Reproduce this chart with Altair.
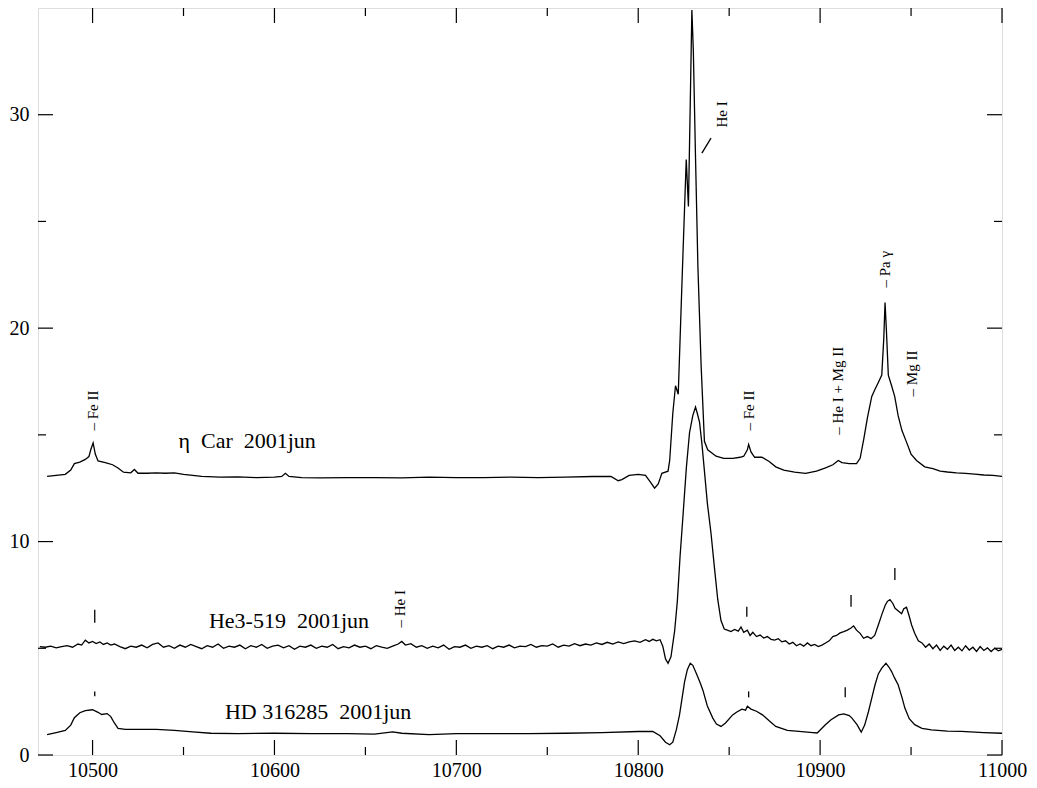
import altair as alt
import pandas as pd

# ---------------- data ----------------
eta_car = [
    (10475, 13.05), (10480, 13.1), (10485, 13.15), (10488, 13.35), (10490, 13.65),
    (10493, 13.72), (10496, 13.85), (10498, 13.98), (10499, 14.3), (10500.3, 14.62),
    (10501.5, 14.1), (10503, 13.78), (10507, 13.7), (10511, 13.6), (10514, 13.45),
    (10517, 13.25), (10521, 13.22), (10523, 13.38), (10525, 13.2), (10530, 13.2),
    (10535, 13.22), (10540, 13.2), (10545, 13.22), (10550, 13.15), (10555, 13.1),
    (10560, 13.05), (10570, 13.02), (10580, 13.03), (10590, 13.0), (10600, 13.02),
    (10604, 13.05), (10606, 13.2), (10608, 13.05), (10615, 13.0), (10625, 12.98),
    (10640, 13.0), (10655, 13.0), (10670, 12.98), (10685, 13.02), (10700, 13.0),
    (10715, 13.0), (10730, 13.02), (10745, 13.0), (10760, 13.02), (10775, 13.05),
    (10785, 13.05), (10789, 12.85), (10791, 12.9), (10795, 13.1), (10800, 13.15),
    (10804, 13.1), (10807, 12.75), (10809, 12.5), (10811, 12.7), (10813, 13.2),
    (10816.4, 13.3), (10817.3, 13.8), (10819, 16.0), (10820.5, 17.3), (10822, 16.9),
    (10824, 22.0), (10826.4, 27.9), (10827.6, 25.7), (10828.6, 30.5), (10829.5, 34.9),
    (10830.3, 33.0), (10831.5, 28.0), (10832.8, 22.9), (10834.6, 18.2), (10836.4, 14.7),
    (10838.2, 14.3), (10842.8, 14.0), (10847, 13.9), (10852, 13.9), (10856, 13.95),
    (10858, 14.0), (10860, 14.3), (10860.7, 14.55), (10862, 14.2), (10864, 13.95),
    (10868, 13.95), (10872, 13.75), (10875.6, 13.5), (10880, 13.35), (10886, 13.25),
    (10892, 13.2), (10898, 13.3), (10903, 13.45), (10907, 13.6), (10910, 13.8),
    (10912, 13.7), (10916, 13.65), (10920, 13.65), (10922, 13.9), (10924, 14.8),
    (10926, 15.8), (10928.4, 16.8), (10930, 17.1), (10932, 17.45), (10933.9, 17.8),
    (10935, 19.5), (10935.7, 21.2), (10936.5, 19.8), (10937.5, 17.8), (10939.3, 17.3),
    (10941, 16.8), (10942.9, 15.9), (10945, 15.2), (10947.5, 14.66), (10950, 14.1),
    (10953, 13.8), (10957.5, 13.5), (10962, 13.42), (10966, 13.3), (10970, 13.26),
    (10975, 13.22), (10980, 13.2), (10985, 13.16), (10990, 13.12), (10995, 13.1),
    (11000, 13.05),
]

he3_519 = [
    (10471, 5.08), (10474, 5.05), (10477, 5.1), (10480, 5.02), (10483, 5.08),
    (10486, 5.12), (10489, 5.05), (10492, 5.2), (10494, 5.15), (10496, 5.38),
    (10498, 5.25), (10500, 5.32), (10502, 5.22), (10504, 5.3), (10506, 5.18),
    (10508, 5.25), (10510, 5.15), (10512, 5.2), (10515, 5.08), (10518, 4.98),
    (10521, 5.1), (10524, 5.05), (10527, 5.15), (10530, 5.02), (10533, 5.18),
    (10536, 5.25), (10539, 5.05), (10542, 5.12), (10545, 5.0), (10548, 5.15),
    (10551, 5.05), (10554, 5.18), (10557, 5.08), (10560, 4.98), (10563, 5.12),
    (10566, 5.05), (10569, 5.2), (10572, 5.0), (10575, 5.1), (10578, 5.05),
    (10581, 5.15), (10584, 4.98), (10587, 5.12), (10590, 5.05), (10593, 5.18),
    (10596, 5.0), (10599, 5.1), (10602, 5.15), (10605, 5.02), (10608, 5.12),
    (10611, 4.95), (10614, 5.1), (10617, 5.05), (10620, 5.15), (10623, 5.0),
    (10626, 5.1), (10629, 5.05), (10632, 5.18), (10635, 4.98), (10638, 5.08),
    (10641, 5.02), (10644, 5.15), (10647, 5.05), (10650, 5.1), (10653, 4.98),
    (10656, 5.12), (10659, 5.05), (10662, 5.0), (10665, 5.1), (10668, 5.2),
    (10670, 5.32), (10672, 5.15), (10675, 5.22), (10678, 5.05), (10681, 5.12),
    (10684, 5.0), (10687, 5.1), (10690, 5.02), (10693, 5.15), (10696, 4.95),
    (10699, 5.08), (10702, 5.05), (10705, 5.15), (10708, 5.0), (10711, 5.1),
    (10714, 5.05), (10717, 5.12), (10720, 4.98), (10723, 5.1), (10726, 5.05),
    (10729, 5.15), (10732, 5.02), (10735, 5.1), (10738, 5.08), (10741, 5.18),
    (10744, 5.05), (10747, 5.12), (10750, 5.1), (10753, 5.2), (10756, 5.05),
    (10759, 5.15), (10762, 5.1), (10765, 5.22), (10768, 5.12), (10771, 5.2),
    (10774, 5.15), (10777, 5.25), (10780, 5.18), (10783, 5.28), (10786, 5.2),
    (10789, 5.3), (10792, 5.22), (10795, 5.3), (10798, 5.35), (10801, 5.28),
    (10804, 5.4), (10806, 5.32), (10808, 5.42), (10810, 5.35), (10812, 5.4),
    (10813.5, 5.1), (10815, 4.5), (10816.4, 4.3), (10818, 4.6), (10820, 5.8),
    (10821.5, 7.2), (10823, 9.3), (10824.6, 11.2), (10826.5, 13.5), (10828.2, 15.1),
    (10830, 15.9), (10831.5, 16.3), (10832.5, 16.0), (10833.7, 15.6), (10835, 14.6),
    (10836.4, 13.3), (10838, 11.8), (10840, 10.4), (10842, 8.7), (10843.7, 7.3),
    (10845.5, 6.3), (10847.3, 5.9), (10849, 5.85), (10851, 5.78), (10853, 5.88),
    (10855, 5.8), (10856.5, 6.0), (10858, 5.75), (10860, 5.85), (10861.5, 5.6),
    (10863, 5.75), (10865, 5.55), (10867, 5.62), (10869, 5.48), (10871, 5.55),
    (10873, 5.42), (10875, 5.38), (10877, 5.45), (10879, 5.3), (10881, 5.35),
    (10883, 5.2), (10885, 5.28), (10887, 5.12), (10889, 5.2), (10891, 5.1),
    (10893, 5.25), (10895, 5.12), (10897, 5.18), (10899, 5.08), (10901, 5.15),
    (10903, 5.25), (10905, 5.35), (10907, 5.55), (10909, 5.6), (10911, 5.72),
    (10913, 5.78), (10915, 5.85), (10917, 5.95), (10918.4, 6.05), (10920, 5.85),
    (10922, 5.7), (10923.9, 5.47), (10926, 5.55), (10928, 5.45), (10930, 5.6),
    (10932, 6.09), (10934, 6.6), (10935.8, 7.02), (10937, 7.2), (10938.4, 7.28),
    (10940, 7.1), (10941.2, 6.87), (10943, 6.75), (10944.8, 6.62), (10946, 6.85),
    (10947.5, 6.92), (10949, 6.5), (10950.3, 6.09), (10952, 5.7), (10954, 5.35),
    (10956, 5.25), (10958, 5.05), (10960, 5.2), (10962, 4.98), (10964, 5.15),
    (10966, 4.9), (10968, 5.1), (10970, 4.95), (10972, 5.15), (10974, 4.9),
    (10976, 5.05), (10978, 4.88), (10980, 5.12), (10982, 4.92), (10984, 5.05),
    (10986, 4.85), (10988, 5.08), (10990, 4.9), (10992, 5.02), (10994, 4.85),
    (10996, 5.0), (10998, 4.88), (11000, 4.95),
]

hd_316285 = [
    (10475, 0.95), (10480, 1.05), (10485, 1.15), (10488, 1.4), (10490, 1.75),
    (10493, 1.98), (10496, 2.08), (10500, 2.12), (10503, 2.0), (10505, 1.9),
    (10508, 1.94), (10510, 1.8), (10512, 1.5), (10514, 1.25), (10518, 1.2),
    (10525, 1.2), (10535, 1.2), (10545, 1.15), (10555, 1.08), (10565, 1.02),
    (10580, 1.0), (10600, 1.02), (10620, 1.0), (10640, 1.0), (10655, 0.98),
    (10665, 1.08), (10670, 1.02), (10685, 0.95), (10700, 1.0), (10720, 1.0),
    (10740, 1.0), (10760, 1.02), (10780, 1.05), (10800, 1.1), (10808, 1.1),
    (10812, 0.9), (10815, 0.6), (10817.3, 0.48), (10819, 0.6), (10821, 1.2),
    (10822.7, 1.88), (10825.5, 3.44), (10827, 4.0), (10828.6, 4.3), (10830, 4.2),
    (10831.9, 3.83), (10834, 3.4), (10835.5, 3.05), (10838, 2.3), (10841, 1.73),
    (10843, 1.45), (10845.5, 1.34), (10848, 1.5), (10851.9, 1.88), (10854, 2.0),
    (10857, 2.15), (10859, 2.1), (10860, 2.28), (10862, 2.15), (10865, 2.05),
    (10868.3, 1.88), (10872, 1.6), (10875.6, 1.34), (10882, 1.15), (10890, 1.1),
    (10896, 1.05), (10898.4, 1.03), (10902.9, 1.42), (10906, 1.65), (10910.2, 1.88),
    (10913, 1.93), (10916, 1.85), (10917.5, 1.73), (10920.3, 1.42), (10922.6, 1.07),
    (10924.5, 1.4), (10926.6, 2.04), (10928.5, 2.7), (10930.2, 3.29), (10932, 3.8),
    (10933.9, 4.07), (10936.2, 4.3), (10938, 4.1), (10939.3, 3.91), (10941, 3.6),
    (10942.9, 3.29), (10945, 2.7), (10946.6, 2.2), (10949, 1.7), (10952, 1.42),
    (10956, 1.25), (10961.2, 1.18), (10970, 1.12), (10977.6, 1.11), (10990, 1.05),
    (11000, 1.02),
]

series_names = ["eta", "he3", "hd"]

# spectrum labels: (wavelength, flux, text)
spectrum_labels = [
    (10585, 14.7, "\u03b7\u00a0 Car\u00a0 2001jun"),
    (10608, 6.3, "He3-519\u00a0 2001jun"),
    (10624, 2.0, "HD 316285\u00a0 2001jun"),
]

# rotated line identifications: (wavelength, flux at bottom of string, text)
line_ids = [
    (10500.3, 15.2, "\u2013 Fe II"),
    (10860.7, 15.2, "\u2013 Fe II"),
    (10910, 15.0, "\u2013 He I + Mg II"),
    (10935.7, 21.9, "\u2013 Pa \u03b3"),
    (10950.3, 16.8, "\u2013 Mg II"),
    (10669, 5.97, "\u2013 He I"),
    (10846, 29.4, "He I"),
]

# short vertical markers: (wavelength, flux from, flux to)
markers = [
    (10501.2, 6.2, 6.8), (10859.7, 6.48, 6.95), (10917, 6.95, 7.5), (10941.1, 8.2, 8.76),
    (10501.2, 2.75, 2.98), (10860.7, 2.7, 2.98), (10913.8, 2.7, 3.17),
]

# slanted He I pointer: (wl1, f1, wl2, f2)
pointer = [(10835, 28.2, 10840, 28.9)]

x_major = [10500, 10600, 10700, 10800, 10900, 11000]
x_minor = [10550, 10650, 10750, 10850, 10950]
y_major = [0, 10, 20, 30]
y_minor = [5, 15, 25]

# ---------------- build tables ----------------
rows = []
for name, spec in zip(series_names, [eta_car, he3_519, hd_316285]):
    for wl, fl in spec:
        rows.append({"wl": wl, "flux": fl, "series": name})
spec_df = pd.DataFrame(rows)
lab_df = pd.DataFrame(spectrum_labels, columns=["wl", "flux", "text"])
id_df = pd.DataFrame(line_ids, columns=["wl", "flux", "text"])
mk_df = pd.DataFrame(markers, columns=["wl", "f1", "f2"])
pt_df = pd.DataFrame(pointer, columns=["wl1", "f1", "wl2", "f2"])
xt_df = pd.DataFrame({"wl": x_major + x_minor,
                      "len": [15] * len(x_major) + [8] * len(x_minor)})
yt_df = pd.DataFrame({"flux": y_major + y_minor,
                      "len": [15] * len(y_major) + [8] * len(y_minor)})

W, H = 964, 747
FONT = "Times New Roman, Liberation Serif, serif"

xs = alt.Scale(domain=[10470, 11000], nice=False, zero=False)
ys = alt.Scale(domain=[0, 35], nice=False, zero=False)

X = alt.X("wl:Q", scale=xs,
          axis=alt.Axis(values=x_major, title=None, ticks=False, tickSize=0,
                        domain=False, grid=False, labelPadding=5,
                        labelFont=FONT, labelFontSize=20, labelColor="black",
                        format="d", labelFlush=False))
Y = alt.Y("flux:Q", scale=ys,
          axis=alt.Axis(values=y_major, title=None, ticks=False, tickSize=0,
                        domain=False, grid=False, labelPadding=9,
                        labelFont=FONT, labelFontSize=20, labelColor="black",
                        labelFlush=False))

lines = alt.Chart(spec_df).mark_line(color="black", strokeWidth=1.3).encode(
    x=X, y=Y, detail="series:N", order="wl:Q")

labels = alt.Chart(lab_df).mark_text(font=FONT, fontSize=22, color="black",
                                     align="center", baseline="middle").encode(
    x=alt.X("wl:Q", scale=xs), y=alt.Y("flux:Q", scale=ys), text="text:N")

ids = alt.Chart(id_df).mark_text(font=FONT, fontSize=15, color="black", angle=270,
                                 align="left", baseline="middle").encode(
    x=alt.X("wl:Q", scale=xs), y=alt.Y("flux:Q", scale=ys), text="text:N")

mk = alt.Chart(mk_df).mark_rule(color="black", strokeWidth=1.3).encode(
    x=alt.X("wl:Q", scale=xs), y=alt.Y("f1:Q", scale=ys), y2="f2:Q")

pt = alt.Chart(pt_df).mark_rule(color="black", strokeWidth=1.3).encode(
    x=alt.X("wl1:Q", scale=xs), x2="wl2:Q",
    y=alt.Y("f1:Q", scale=ys), y2="f2:Q")

# inward tick marks on all four sides; lengths come from the tick tables
tb = alt.Chart(xt_df).transform_calculate(
    y0=f"{H}", y1=f"{H} - datum.len").mark_rule(color="black", strokeWidth=1.2).encode(
    x=alt.X("wl:Q", scale=xs),
    y=alt.Y("y0:Q", scale=None), y2="y1:Q")
tt = alt.Chart(xt_df).transform_calculate(
    y0="0", y1="datum.len").mark_rule(color="black", strokeWidth=1.2).encode(
    x=alt.X("wl:Q", scale=xs),
    y=alt.Y("y0:Q", scale=None), y2="y1:Q")
tl = alt.Chart(yt_df).transform_calculate(
    x0="0", x1="datum.len").mark_rule(color="black", strokeWidth=1.2).encode(
    y=alt.Y("flux:Q", scale=ys),
    x=alt.X("x0:Q", scale=None), x2="x1:Q")
tr = alt.Chart(yt_df).transform_calculate(
    x0=f"{W}", x1=f"{W} - datum.len").mark_rule(color="black", strokeWidth=1.2).encode(
    y=alt.Y("flux:Q", scale=ys),
    x=alt.X("x0:Q", scale=None), x2="x1:Q")

chart = alt.layer(lines, labels, ids, mk, pt, tb, tt, tl, tr).properties(
    width=W, height=H,
    autosize=alt.AutoSizeParams(type="none"),
    padding={"left": 30, "top": 0, "right": 27, "bottom": 29},
).configure_view(stroke="black", strokeWidth=1.5).configure(background="white")

chart.save("out.html", embed_options={"renderer": "svg", "actions": False})
